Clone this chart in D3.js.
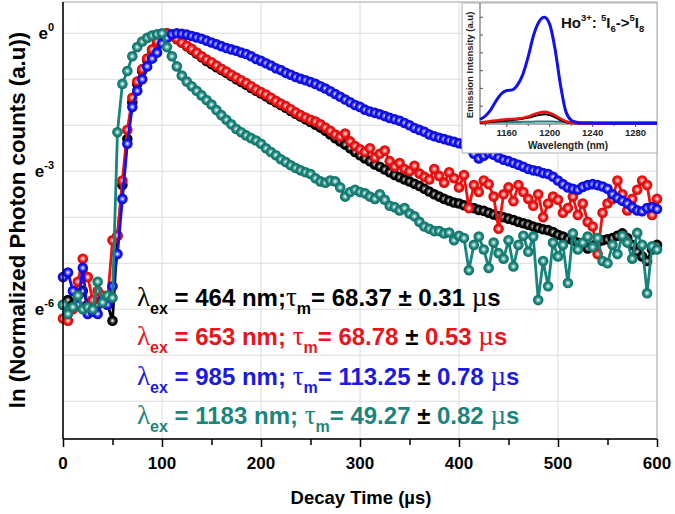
<!DOCTYPE html>
<html><head><meta charset="utf-8">
<script src="https://cdn.jsdelivr.net/npm/d3@7"></script>
<style>body{margin:0;background:#fff}svg{display:block}text{font-family:Arial,"Liberation Sans",sans-serif}</style>
</head><body><svg id="c" width="675" height="514"></svg>
<script>
// ---------- data ----------
const times = d3.range(0, 601, 5); // sampling instants (µs)
const black464 = [-5.9,-5.8,-5.9,-5.7,-5.6,-5.9,-5.8,-5.9,-5.85,-5.9,
 -6.25,-4.4,-3.3,-2.3,-1.5,-1.1,-0.82,-0.58,-0.38,-0.2,
 -0.07,0,-0.06,-0.13,-0.2,-0.28,-0.36,-0.44,-0.52,-0.6,
 -0.67,-0.74,-0.8,-0.86,-0.93,-1.0,-1.06,-1.12,-1.19,-1.25,
 -1.31,-1.37,-1.44,-1.5,-1.56,-1.62,-1.69,-1.75,-1.81,-1.87,
 -1.93,-1.99,-2.05,-2.12,-2.2,-2.28,-2.35,-2.42,-2.5,-2.58,
 -2.65,-2.72,-2.78,-2.85,-2.9,-2.96,-3.02,-3.08,-3.13,-3.18,
 -3.22,-3.27,-3.32,-3.38,-3.44,-3.5,-3.55,-3.6,-3.64,-3.68,
 -3.7,-3.74,-3.78,-3.8,-3.84,-3.86,-3.9,-3.94,-3.98,-4.0,
 -4.03,-4.06,-4.1,-4.13,-4.16,-4.2,-4.23,-4.26,-4.28,-4.32,
 -4.38,-4.42,-4.47,-4.5,-4.55,-4.6,-4.68,-4.62,-4.55,-4.5,
 -4.48,-4.45,-4.4,-4.35,-4.45,-4.6,-4.75,-4.85,-4.95,-4.7,
 -4.6];
const red653 = [-6.2,-6.25,-6.0,-5.4,-4.9,-5.3,-5.8,-5.6,-5.7,-5.8,
 -4.5,-4.4,-3.2,-2.1,-1.4,-1.05,-0.78,-0.55,-0.35,-0.18,
 -0.05,0,-0.05,-0.12,-0.2,-0.27,-0.34,-0.42,-0.5,-0.57,
 -0.63,-0.7,-0.77,-0.83,-0.9,-0.96,-1.02,-1.08,-1.15,-1.22,
 -1.28,-1.33,-1.4,-1.47,-1.53,-1.58,-1.65,-1.72,-1.78,-1.83,
 -1.88,-1.92,-1.98,-2.05,-2.12,-2.2,-2.25,-2.18,-2.35,-2.45,
 -2.52,-2.58,-2.5,-2.7,-2.62,-2.55,-2.78,-2.9,-2.82,-2.95,
 -3.0,-2.88,-3.05,-3.12,-3.18,-2.95,-3.1,-3.25,-3.02,-3.15,
 -3.35,-3.08,-3.8,-3.3,-3.45,-3.2,-3.28,-3.55,-4.25,-3.5,
 -3.35,-3.65,-3.3,-3.45,-3.6,-3.75,-3.5,-4.0,-3.7,-3.55,
 -3.62,-3.9,-3.8,-3.55,-3.95,-3.7,-4.1,-4.2,-4.8,-3.9,
 -3.7,-3.6,-3.2,-3.5,-3.85,-3.6,-3.4,-3.2,-3.3,-3.95,
 -3.6];
const blue985 = [-5.3,-5.2,-5.6,-5.9,-5.1,-6.1,-6.05,-6.1,-5.8,-5.9,
 -5.5,-4.8,-3.6,-2.4,-1.6,-1.25,-1.0,-0.72,-0.55,-0.42,
 -0.22,-0.1,-0.02,0,-0.01,-0.03,-0.06,-0.09,-0.12,-0.16,
 -0.2,-0.24,-0.28,-0.32,-0.35,-0.38,-0.42,-0.45,-0.5,-0.56,
 -0.6,-0.65,-0.7,-0.76,-0.8,-0.86,-0.9,-0.95,-0.99,-1.02,
 -1.06,-1.1,-1.15,-1.2,-1.26,-1.32,-1.38,-1.44,-1.5,-1.56,
 -1.6,-1.66,-1.7,-1.73,-1.76,-1.8,-1.84,-1.87,-1.9,-1.95,
 -2.0,-2.06,-2.1,-2.14,-2.2,-2.24,-2.27,-2.3,-2.33,-2.36,
 -2.39,-2.42,-2.5,-2.62,-2.72,-2.66,-2.6,-2.64,-2.7,-2.75,
 -2.78,-2.82,-2.86,-2.9,-2.95,-2.98,-3.0,-3.04,-3.06,-3.12,
 -3.2,-3.28,-3.35,-3.38,-3.4,-3.34,-3.3,-3.28,-3.3,-3.33,
 -3.38,-3.5,-3.58,-3.64,-3.7,-3.78,-3.85,-3.87,-3.8,-3.78,
 -3.82];
const teal1183 = [-5.9,-6.1,-5.95,-5.7,-6.0,-5.95,-6.0,-5.4,-5.85,-5.7,
 -5.75,-2.15,-1.1,-0.82,-0.5,-0.3,-0.18,-0.1,-0.05,-0.02,
 0,-0.3,-0.5,-0.72,-0.92,-1.05,-1.15,-1.25,-1.35,-1.45,
 -1.55,-1.67,-1.78,-1.88,-1.98,-2.08,-2.15,-2.22,-2.28,-2.33,
 -2.4,-2.5,-2.58,-2.65,-2.74,-2.8,-2.87,-2.93,-2.98,-3.02,
 -3.06,-3.15,-3.22,-3.25,-3.2,-3.22,-3.35,-3.55,-3.45,-3.4,
 -3.45,-3.48,-3.55,-3.6,-3.5,-3.62,-3.75,-3.78,-3.85,-3.8,
 -3.92,-3.98,-4.1,-4.2,-4.25,-4.3,-4.3,-4.35,-4.33,-4.5,
 -4.4,-4.45,-5.15,-4.6,-4.42,-4.7,-5.1,-4.55,-4.78,-4.9,
 -4.5,-5.07,-4.6,-4.4,-4.75,-4.42,-5.8,-4.95,-5.5,-4.55,
 -4.85,-4.6,-5.43,-4.35,-4.7,-4.55,-4.42,-4.65,-4.45,-4.95,
 -5.0,-4.6,-4.8,-4.4,-4.55,-4.9,-4.34,-4.6,-5.65,-4.63,
 -4.7];
const seriesColors = ["#000000", "#f51010", "#1010f5", "#16857b"];
const seriesData = [black464, red653, blue985, teal1183];
const exWavelengths = ["464", "653", "985", "1183"];
const tauValues = ["68.37", "68.78", "113.25", "49.27"];
const tauErrors = ["0.31", "0.53", "0.78", "0.82"];
const legendColors = ["#000000", "#e8161c", "#1a1ae0", "#1b857b"];
const xTicks = [0, 100, 200, 300, 400, 500, 600];
const yTickExp = [0, -3, -6];

// inset emission spectra
const wl = d3.range(1135, 1301, 5);
const emBlue = [0.25,0.45,0.8,1.3,1.7,1.88,1.92,2.2,2.8,3.8,5.0,5.75,6.0,5.6,4.2,2.2,0.7,0.22,0.1,0.06,0.05,0.05,0.04,0.04,0.04,0.04,0.04,0.04,0.04,0.04,0.04,0.04,0.04,0.04];
const emRed = [0.08,0.12,0.16,0.2,0.24,0.27,0.28,0.3,0.34,0.42,0.53,0.63,0.68,0.62,0.48,0.3,0.15,0.07,0.04,0.03,0.03,0.03,0.03,0.03,0.03,0.03,0.03,0.03,0.03,0.03,0.03,0.03,0.03,0.03];
const emBlack = [0.05,0.08,0.11,0.14,0.17,0.2,0.22,0.25,0.3,0.35,0.43,0.5,0.55,0.5,0.38,0.22,0.1,0.05,0.03,0.03,0.03,0.03,0.03,0.03,0.03,0.03,0.03,0.03,0.03,0.03,0.03,0.03,0.03,0.03];
const emTeal = [0.1,0.1,0.1,0.11,0.11,0.11,0.11,0.11,0.12,0.12,0.13,0.14,0.14,0.14,0.13,0.12,0.11,0.1,0.1,0.1,0.1,0.1,0.1,0.1,0.1,0.1,0.1,0.1,0.1,0.1,0.1,0.1,0.1,0.1];
const insetTicks = [1160, 1200, 1240, 1280];

// ---------- drawing ----------
const svg = d3.select("#c");
const L = 63, R = 657, T = 2, B = 439;
const x = d3.scaleLinear([0, 600], [L, R]);
const y = d3.scaleLinear([-8.82, 0.68], [B, T]);

const defs = svg.append("defs");
seriesColors.forEach((c, i) => {
  const g = defs.append("radialGradient").attr("id", "g" + i).attr("cx", "50%").attr("cy", "50%").attr("r", "50%");
  g.append("stop").attr("offset", "0%").attr("stop-color", "#ffffff");
  g.append("stop").attr("offset", "25%").attr("stop-color", d3.interpolateRgb("#ffffff", c)(0.45));
  g.append("stop").attr("offset", "60%").attr("stop-color", c);
  g.append("stop").attr("offset", "100%").attr("stop-color", d3.color(c).darker(0.5));
});

// grid
svg.append("g").selectAll("line").data(d3.range(-8, 1)).join("line")
  .attr("x1", L).attr("x2", R).attr("y1", d => y(d)).attr("y2", d => y(d))
  .attr("stroke", "#dcdcdc").attr("stroke-width", 1);
svg.append("g").selectAll("line").data([100, 200, 300, 400, 500]).join("line")
  .attr("y1", T).attr("y2", B).attr("x1", d => x(d)).attr("x2", d => x(d))
  .attr("stroke", "#dcdcdc").attr("stroke-width", 1);
svg.append("rect").attr("x", L).attr("y", T).attr("width", R - L).attr("height", B - T)
  .attr("fill", "none").attr("stroke", "#a0a0a0").attr("stroke-width", 1);

// series
const line = d3.line().x((d, i) => x(times[i])).y(d => y(d));
seriesData.forEach((vals, k) => {
  const g = svg.append("g");
  g.append("path").attr("d", line(vals)).attr("fill", "none")
    .attr("stroke", seriesColors[k]).attr("stroke-width", 2.8).attr("stroke-linejoin", "round");
  g.selectAll("circle").data(vals).join("circle")
    .attr("cx", (d, i) => x(times[i])).attr("cy", d => y(d)).attr("r", 5.3)
    .attr("fill", `url(#g${k})`);
});

// axes
svg.append("line").attr("x1", L).attr("x2", L).attr("y1", T).attr("y2", B).attr("stroke", "#000").attr("stroke-width", 1.5);
svg.append("line").attr("x1", L).attr("x2", R).attr("y1", B).attr("y2", B).attr("stroke", "#000").attr("stroke-width", 1.5);
const xAxis = svg.append("g").attr("transform", `translate(0,${B})`)
  .call(d3.axisBottom(x).tickValues(d3.range(0, 601, 50)).tickSize(7).tickFormat(""));
xAxis.select(".domain").remove();
xAxis.selectAll(".tick line").attr("stroke", "#000").attr("stroke-width", 1.5)
  .attr("y2", d => d % 100 === 0 ? 8 : 6);
svg.append("g").selectAll("text").data(xTicks).join("text")
  .attr("x", d => x(d)).attr("y", 469).attr("text-anchor", "middle")
  .attr("font-weight", "bold").attr("font-size", 17).text(d => d);

const yl = svg.append("g").selectAll("text").data(yTickExp).join("text")
  .attr("x", 54).attr("y", d => y(d) + 6).attr("text-anchor", "end")
  .attr("font-weight", "bold").attr("font-size", 17);
yl.append("tspan").text("e");
yl.append("tspan").attr("dy", -8).attr("font-size", 11).text(d => d === 0 ? "0" : d);

svg.append("text").attr("x", 361).attr("y", 504).attr("text-anchor", "middle")
  .attr("font-weight", "bold").attr("font-size", 18.5).text("Decay Time (µs)");
svg.append("text").attr("transform", "translate(25,220) rotate(-90)").attr("text-anchor", "middle")
  .attr("font-weight", "bold").attr("font-size", 22.3).text("ln (Normalized Photon counts (a.u))");

// legend text
const SERIF = "'Liberation Serif','DejaVu Serif',serif";
exWavelengths.forEach((w, i) => {
  const c = legendColors[i];
  const t = svg.append("text").attr("x", 137).attr("y", 306 + i * 39.3)
    .attr("font-weight", "bold").attr("font-size", 24).attr("fill", c);
  t.append("tspan").attr("font-family", SERIF).attr("font-weight", "normal").attr("font-size", 27).text("λ");
  t.append("tspan").attr("font-size", 16).attr("dy", 8).text("ex");
  t.append("tspan").attr("dy", -8).text(` = ${w} nm;${i === 0 ? "" : " "}`);
  t.append("tspan").attr("font-family", SERIF).attr("font-weight", "normal").attr("font-size", 27).text("τ");
  t.append("tspan").attr("font-size", 16).attr("dy", 8).text("m");
  t.append("tspan").attr("dy", -8).text(`= ${tauValues[i]} `);
  t.append("tspan").attr("fill", "#000").text("±");
  t.append("tspan").text(` ${tauErrors[i]} `);
  t.append("tspan").attr("font-family", SERIF).attr("font-weight", "normal").attr("font-size", 27).text("µ");
  t.append("tspan").text("s");
});

// ---------- inset ----------
const IL = 480, IR = 657, IT = 3, IB = 124;
svg.append("rect").attr("x", 462).attr("y", 3).attr("width", 195).attr("height", 150)
  .attr("fill", "#fff").attr("stroke", "#b0b0b0").attr("stroke-width", 1);
const xi = d3.scaleLinear([1135, 1300], [IL, IR]);
const yi = d3.scaleLinear([0, 6.8], [IB, IT]);
svg.append("g").selectAll("line").data(d3.range(1, 7)).join("line")
  .attr("x1", IL).attr("x2", IL + 3).attr("y1", d => yi(d)).attr("y2", d => yi(d))
  .attr("stroke", "#555").attr("stroke-width", 1);
svg.append("line").attr("x1", IL).attr("x2", IL).attr("y1", IT).attr("y2", IB).attr("stroke", "#555");
svg.append("line").attr("x1", IL).attr("x2", IR).attr("y1", IB).attr("y2", IB).attr("stroke", "#555");
svg.append("g").selectAll("line").data(d3.range(1140, 1300, 20)).join("line")
  .attr("x1", d => xi(d)).attr("x2", d => xi(d)).attr("y1", IB).attr("y2", d => d % 40 === 0 ? IB + 3 : IB + 2)
  .attr("stroke", "#555");
const iline = d3.line().x((d, i) => xi(wl[i])).y(d => yi(d)).curve(d3.curveMonotoneX);
[[emTeal, "#1b857b", 2], [emBlack, "#000", 2], [emRed, "#f01010", 2.6], [emBlue, "#1010f0", 3]].forEach(([v, c, w]) => {
  svg.append("path").attr("d", iline(v)).attr("fill", "none").attr("stroke", c).attr("stroke-width", w);
});
svg.append("g").selectAll("text").data(insetTicks).join("text")
  .attr("x", d => xi(d)).attr("y", 136).attr("text-anchor", "middle")
  .attr("font-weight", "bold").attr("font-size", 9.5).attr("fill", "#222").text(d => d);
svg.append("text").attr("x", 568).attr("y", 149).attr("text-anchor", "middle")
  .attr("font-weight", "bold").attr("font-size", 10).attr("fill", "#222").text("Wavelength (nm)");
svg.append("text").attr("transform", "translate(473,65) rotate(-90)").attr("text-anchor", "middle")
  .attr("font-weight", "bold").attr("font-size", 9.5).attr("fill", "#222").text("Emission Intensity (a.u)");
const ho = svg.append("text").attr("x", 561).attr("y", 28).attr("font-weight", "bold").attr("font-size", 15).attr("fill", "#111");
ho.append("tspan").text("Ho");
ho.append("tspan").attr("font-size", 9.5).attr("dy", -7).text("3+");
ho.append("tspan").attr("dy", 7).text(": ");
ho.append("tspan").attr("font-size", 9.5).attr("dy", -7).text("5");
ho.append("tspan").attr("dy", 7).text("I");
ho.append("tspan").attr("font-size", 9.5).attr("dy", 4).text("6");
ho.append("tspan").attr("dy", -4).text("->");
ho.append("tspan").attr("font-size", 9.5).attr("dy", -7).text("5");
ho.append("tspan").attr("dy", 7).text("I");
ho.append("tspan").attr("font-size", 9.5).attr("dy", 4).text("8");
</script></body></html>
